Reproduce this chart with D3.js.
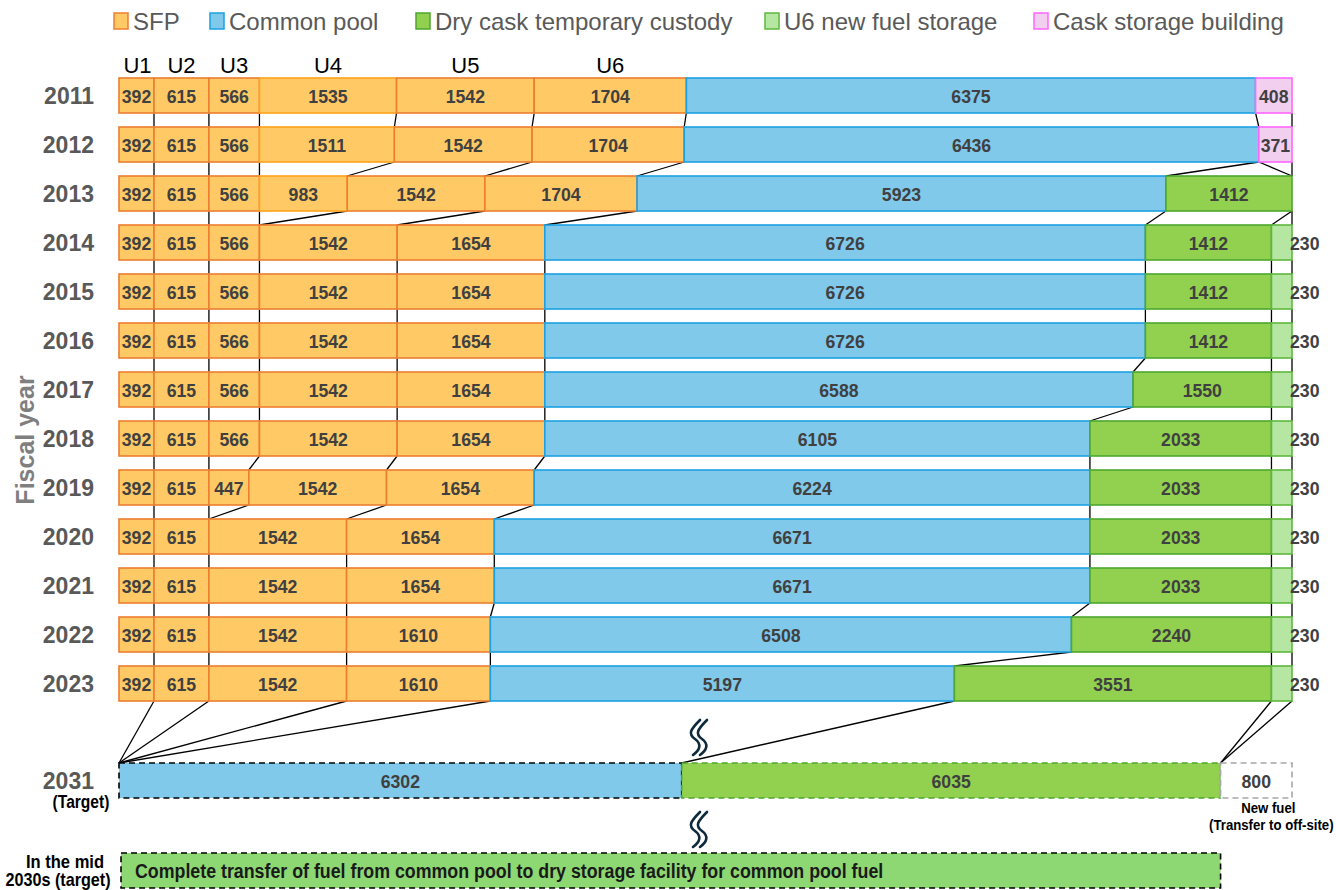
<!DOCTYPE html>
<html>
<head>
<meta charset="utf-8">
<script src="https://cdn.jsdelivr.net/npm/d3@7/dist/d3.min.js"></script>
<style>
  html, body { margin: 0; padding: 0; background: #fff; }
  svg { display: block; }
  text { font-family: 'Liberation Sans', Arial, sans-serif; }
</style>
</head>
<body>
<div id="chart"></div>
<script>
// Spent fuel inventory by storage location, fiscal years 2011-2023 + targets

const years = ['2011', '2012', '2013', '2014', '2015', '2016', '2017', '2018', '2019', '2020', '2021', '2022', '2023'];
const unitLabels = ['U1', 'U2', 'U3', 'U4', 'U5', 'U6'];

const u1 = [392, 392, 392, 392, 392, 392, 392, 392, 392, 392, 392, 392, 392];
const u2 = [615, 615, 615, 615, 615, 615, 615, 615, 615, 615, 615, 615, 615];
const u3 = [566, 566, 566, 566, 566, 566, 566, 566, 447, 0, 0, 0, 0];
const u4 = [1535, 1511, 983, 0, 0, 0, 0, 0, 0, 0, 0, 0, 0];
const u5 = [1542, 1542, 1542, 1542, 1542, 1542, 1542, 1542, 1542, 1542, 1542, 1542, 1542];
const u6 = [1704, 1704, 1704, 1654, 1654, 1654, 1654, 1654, 1654, 1654, 1654, 1610, 1610];
const commonPool = [6375, 6436, 5923, 6726, 6726, 6726, 6588, 6105, 6224, 6671, 6671, 6508, 5197];
const dryCask = [0, 0, 1412, 1412, 1412, 1412, 1550, 2033, 2033, 2033, 2033, 2240, 3551];
const u6NewFuel = [0, 0, 0, 230, 230, 230, 230, 230, 230, 230, 230, 230, 230];
const caskBuilding = [408, 371, 0, 0, 0, 0, 0, 0, 0, 0, 0, 0, 0];

// FY2031 target
const targetLabel = '2031';
const targetPool = 6302;
const targetDry = 6035;
const targetNewFuel = 800;

const midText = 'Complete transfer of fuel from common pool to dry storage facility for common pool fuel';

const legendItems = [
  { label: 'SFP', fill: '#ffca66', stroke: '#ed7d31' },
  { label: 'Common pool', fill: '#80c9ea', stroke: '#1ba1e2' },
  { label: 'Dry cask temporary custody', fill: '#92d050', stroke: '#4ea72e' },
  { label: 'U6 new fuel storage', fill: '#b5e6a2', stroke: '#5fb83e' },
  { label: 'Cask storage building', fill: '#f2ceef', stroke: '#ff66ff' }
];
const legendX = [114, 210, 416, 765, 1034];

const keys = ['u1', 'u2', 'u3', 'u4', 'u5', 'u6', 'pool', 'dry', 'u6new', 'cask'];
const style = {
  u1: { fill: '#ffca66', stroke: '#ed7d31' },
  u2: { fill: '#ffca66', stroke: '#ed7d31' },
  u3: { fill: '#ffca66', stroke: '#ed7d31' },
  u4: { fill: '#ffca66', stroke: '#ffa31a' },
  u5: { fill: '#ffca66', stroke: '#ed7d31' },
  u6: { fill: '#ffca66', stroke: '#ed7d31' },
  pool: { fill: '#80c9ea', stroke: '#1ba1e2' },
  dry: { fill: '#92d050', stroke: '#4ea72e' },
  u6new: { fill: '#b5e6a2', stroke: '#5fb83e' },
  cask: { fill: '#f2ceef', stroke: '#ff66ff' },
  newFuel: { fill: '#ffffff', stroke: '#a6a6a6' }
};

const rows = years.map((y, i) => ({
  year: y,
  u1: u1[i], u2: u2[i], u3: u3[i], u4: u4[i], u5: u5[i], u6: u6[i],
  pool: commonPool[i], dry: dryCask[i], u6new: u6NewFuel[i], cask: caskBuilding[i]
}));
const targetRow = {
  year: targetLabel,
  u1: 0, u2: 0, u3: 0, u4: 0, u5: 0, u6: 0,
  pool: targetPool, dry: targetDry, u6new: 0, cask: 0, newFuel: targetNewFuel
};

const total = d3.sum(keys, k => rows[0][k]);

const width = 1336;
const height = 890;
const barH = 35;

const svg = d3.select('#chart').append('svg')
  .attr('width', width)
  .attr('height', height);

const x = d3.scaleLinear().domain([0, total]).range([119, 1292]);
const y = d3.scaleBand().domain(years).range([78, 701]).paddingInner(14 / 49).paddingOuter(0);
const yTarget = 763;
const yMid = 853;

// squeezed text helper (mimics the narrow face of the original)
function ntext(parent, tx, ty, str, opts) {
  return parent.append('text')
    .attr('transform', `translate(${tx},${ty}) scale(${opts.squeeze || 0.85},1)`)
    .attr('text-anchor', opts.anchor || 'start')
    .attr('font-size', opts.size)
    .attr('font-weight', opts.weight || 'normal')
    .attr('fill', opts.fill || '#000')
    .text(str);
}

// segments with cumulative positions
function segs(row, keyList) {
  let acc = 0;
  return keyList.map(k => {
    const v = row[k] || 0;
    const s = { key: k, value: v, x0: acc, x1: acc + v };
    acc += v;
    return s;
  });
}

const allRows = rows.map(r => ({ row: r, top: y(r.year), segs: segs(r, keys) }));
const targetSegs = segs(targetRow, keys.concat(['newFuel']));
const chain = allRows.concat([{ row: targetRow, top: yTarget, segs: targetSegs }]);

// Connector lines between consecutive rows
const conn = svg.append('g').attr('stroke', '#000').attr('stroke-width', 1.3);
for (let i = 0; i < chain.length - 1; i++) {
  const a = chain[i], b = chain[i + 1];
  keys.forEach((k, j) => {
    if (!a.row[k] && !b.row[k]) return;
    conn.append('line')
      .attr('x1', x(a.segs[j].x1)).attr('y1', a.top + barH)
      .attr('x2', x(b.segs[j].x1)).attr('y2', b.top);
  });
}

// Historical bars
const rowG = svg.selectAll('.row')
  .data(allRows)
  .join('g')
  .attr('class', 'row')
  .attr('transform', d => `translate(0,${d.top})`);

rowG.selectAll('rect')
  .data(d => d.segs.filter(s => s.value > 0))
  .join('rect')
  .attr('x', s => x(s.x0))
  .attr('y', 0)
  .attr('width', s => x(s.x1) - x(s.x0))
  .attr('height', barH)
  .attr('fill', s => style[s.key].fill)
  .attr('stroke', s => style[s.key].stroke)
  .attr('stroke-width', 1.6);

rowG.selectAll('text.val')
  .data(d => d.segs.filter(s => s.value > 0))
  .join('text')
  .attr('class', 'val')
  .attr('transform', s => {
    const tx = s.key === 'u6new' ? x(s.x1) - 2 : x((s.x0 + s.x1) / 2);
    return `translate(${tx},${barH / 2 + 7}) scale(0.93,1)`;
  })
  .attr('text-anchor', s => s.key === 'u6new' ? 'start' : 'middle')
  .attr('font-size', 19)
  .attr('font-weight', 'bold')
  .attr('fill', '#404040')
  .text(s => s.value);

// Year labels
svg.selectAll('.year')
  .data(years)
  .join('text')
  .attr('class', 'year')
  .attr('x', 94)
  .attr('y', d => y(d) + barH / 2 + 8)
  .attr('text-anchor', 'end')
  .attr('font-size', 23)
  .attr('font-weight', 'bold')
  .attr('fill', '#595959')
  .text(d => d);

// Unit labels above the 2011 row
svg.selectAll('.unit')
  .data(allRows[0].segs.slice(0, 6))
  .join('text')
  .attr('class', 'unit')
  .attr('x', (s, i) => x((s.x0 + s.x1) / 2) + (i === 0 ? 1 : 0))
  .attr('y', 73)
  .attr('text-anchor', 'middle')
  .attr('font-size', 22)
  .attr('fill', '#000')
  .text((s, i) => unitLabels[i]);

// Fiscal year axis title
svg.append('text')
  .attr('transform', 'translate(34,440) rotate(-90)')
  .attr('text-anchor', 'middle')
  .attr('font-size', 25)
  .attr('font-weight', 'bold')
  .attr('fill', '#7f7f7f')
  .text('Fiscal year');

// 2031 target row
const tG = svg.append('g').attr('transform', `translate(0,${yTarget})`);
const tDash = { pool: '#000', dry: '#4ea72e', newFuel: '#a6a6a6' };
tG.selectAll('rect')
  .data(targetSegs.filter(s => s.value > 0))
  .join('rect')
  .attr('x', s => x(s.x0))
  .attr('y', 0)
  .attr('width', s => x(s.x1) - x(s.x0))
  .attr('height', barH)
  .attr('fill', s => style[s.key].fill)
  .attr('stroke', s => tDash[s.key])
  .attr('stroke-width', 1.6)
  .attr('stroke-dasharray', '6,4');
targetSegs.filter(s => s.value > 0).forEach(s => {
  ntext(tG, x((s.x0 + s.x1) / 2), barH / 2 + 7, s.value,
    { anchor: 'middle', size: 19, weight: 'bold', fill: '#404040', squeeze: 0.93 });
});

svg.append('text')
  .attr('x', 94).attr('y', yTarget + barH / 2 + 8)
  .attr('text-anchor', 'end')
  .attr('font-size', 23).attr('font-weight', 'bold').attr('fill', '#595959')
  .text(targetLabel);
ntext(svg, 81, 808, '(Target)', { anchor: 'middle', size: 19, weight: 'bold', squeeze: 0.82 });

const nf = targetSegs.find(s => s.key === 'newFuel');
const nfx = x((nf.x0 + nf.x1) / 2);
ntext(svg, nfx + 12, 813, 'New fuel', { anchor: 'middle', size: 15, weight: 'bold', squeeze: 0.88 });
ntext(svg, nfx + 15, 830, '(Transfer to off-site)', { anchor: 'middle', size: 15, weight: 'bold', squeeze: 0.88 });

// Mid-2030s target bar
svg.append('rect')
  .attr('x', x(0) + 2).attr('y', yMid)
  .attr('width', x(targetPool + targetDry) - x(0) - 2)
  .attr('height', barH)
  .attr('fill', '#8ed873')
  .attr('stroke', '#000')
  .attr('stroke-width', 1.6)
  .attr('stroke-dasharray', '6,4');
ntext(svg, 135, yMid + barH / 2 + 7, midText, { size: 20, weight: 'bold', fill: '#1a1a1a', squeeze: 0.89 });
ntext(svg, 65, 868, 'In the mid', { anchor: 'middle', size: 18, weight: 'bold', squeeze: 0.92 });
ntext(svg, 58, 886, '2030s (target)', { anchor: 'middle', size: 18, weight: 'bold', squeeze: 0.9 });

// Axis break marks
function breakMark(cx, top) {
  const g = svg.append('g').attr('fill', 'none').attr('stroke', '#0e2a3d')
    .attr('stroke-width', 2.6).attr('stroke-linecap', 'round');
  [0, 7].forEach(dx => {
    const x0 = cx + dx;
    g.append('path')
      .attr('d', `M${x0 + 4},${top} C${x0 - 6},${top + 10} ${x0 - 8},${top + 14} ${x0 - 1},${top + 19} ` +
                 `C${x0 + 6},${top + 24} ${x0 + 4},${top + 30} ${x0 - 3},${top + 35}`);
  });
}
breakMark(696, 720);
breakMark(696, 812);

// Legend
const leg = svg.append('g');
legendItems.forEach((d, i) => {
  leg.append('rect')
    .attr('x', legendX[i]).attr('y', 13)
    .attr('width', 14).attr('height', 16)
    .attr('fill', d.fill).attr('stroke', d.stroke).attr('stroke-width', 1.5);
  leg.append('text')
    .attr('x', legendX[i] + 19).attr('y', 30)
    .attr('font-size', 24).attr('fill', '#595959')
    .text(d.label);
});
</script>
</body>
</html>
